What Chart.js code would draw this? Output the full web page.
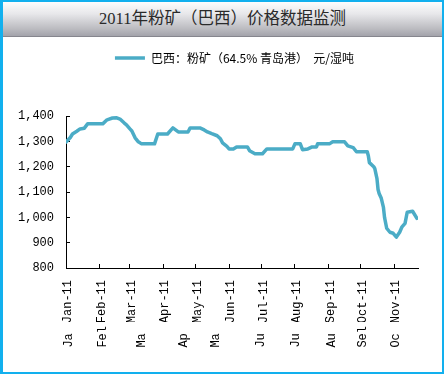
<!DOCTYPE html>
<html>
<head>
<meta charset="utf-8">
<script src="https://cdn.jsdelivr.net/npm/chart.js@4.4.1/dist/chart.umd.min.js"></script>
<style>
    html, body { margin: 0; padding: 0; background: #fff; }
    body { position: relative; width: 444px; height: 374px; overflow: hidden; }
    #frame {
        position: absolute; left: 0; top: 0; width: 444px; height: 374px;
        box-sizing: border-box; border: 2px solid #12b0ee; border-left-width: 3px;
    }
    #banner {
        height: 34px; line-height: 34px; text-align: center;
        background: linear-gradient(#fdfdfd, #e7e7ea 35%, #bababf 80%, #a3a3ab);
        border-bottom: 1px solid #86868e;
        font-family: "Liberation Serif", "Noto Sans CJK SC", serif; font-size: 16.5px; color: #2a2a2a;
    }
    canvas { position: absolute; left: 0; top: 0; }
</style>
</head>
<body>
<div id="frame"><div id="banner">2011年粉矿（巴西）价格数据监测</div></div>
<canvas id="priceChart" width="444" height="374"></canvas>
<script>
// 巴西粉矿（64.5% 青岛港）价格 元/湿吨
const dates = [
    '1/1', '1/5', '1/7', '1/11', '1/14', '1/18', '1/21', '2/4', '2/8', '2/13',
    '2/17', '2/20', '2/24', '2/26', '3/1', '3/3', '3/6', '3/9', '3/12', '3/24',
    '3/27', '4/5', '4/10', '4/15', '4/24', '4/26', '5/5', '5/9', '5/12', '5/16',
    '5/21', '5/24', '5/26', '5/30', '6/1', '6/5', '6/8', '6/18', '6/20', '6/25',
    '7/2', '7/6', '7/30', '8/1', '8/6', '8/8', '8/13', '8/17', '8/21', '8/22',
    '9/2', '9/5', '9/16', '9/19', '9/24', '9/27', '10/7', '10/8', '10/9', '10/13',
    '10/14', '10/16', '10/17', '10/18', '10/20', '10/22', '10/23', '10/25', '10/28', '10/31',
    '11/3', '11/6', '11/8', '11/11', '11/13', '11/18', '11/22'
];
const prices = [
    1297, 1315, 1329, 1340, 1349, 1352, 1369, 1369, 1385, 1392,
    1393, 1388, 1372, 1365, 1350, 1341, 1314, 1298, 1290, 1290,
    1329, 1329, 1353, 1337, 1337, 1353, 1353, 1345, 1337, 1330,
    1322, 1310, 1294, 1280, 1270, 1270, 1278, 1278, 1263, 1251,
    1251, 1270, 1270, 1290, 1290, 1267, 1270, 1278, 1278, 1290,
    1290, 1298, 1298, 1282, 1275, 1259, 1259, 1243, 1216, 1200,
    1192, 1153, 1110, 1094, 1075, 1039, 1000, 957, 941, 937,
    922, 941, 961, 976, 1020, 1024, 996
];

// 横軸の目盛り
const monthStarts = ['1/1', '2/1', '3/1', '4/1', '5/1', '6/1', '7/1', '8/1', '9/1', '10/1', '11/1'];
const monthLabels = ['Jan-11', 'Feb-11', 'Mar-11', 'Apr-11', 'May-11', 'Jun-11',
    'Jul-11', 'Aug-11', 'Sep-11', 'Oct-11', 'Nov-11'];
const axisEnd = '11/23';

// 下段の切れたラベル
const lowerDates = ['1/2', '2/2', '3/10', '4/18', '5/18', '6/29', '7/31', '9/2', '10/1', '11/1'];
const lowerLabels = ['Ja', 'Fel', 'Ma', 'Ap', 'Ma', 'Ju', 'Ju', 'Au', 'Sel', 'Oc'];

// 縦軸の目盛り
const yTicks = [800, 900, 1000, 1100, 1200, 1300, 1400];

const TICK_FONT = { family: '"Liberation Mono", monospace', size: 12 };
const LINE_COLOR = '#4bacc6';

function dayOf(md) {
    const [m, d] = md.split('/').map(Number);
    return (Date.UTC(2011, m - 1, d) - Date.UTC(2011, 0, 1)) / 86400000;
}

// 凡例の高さと横位置の調整
const legendLayout = {
    id: 'legendLayout',
    beforeInit(chart) {
        const legend = chart.legend;
        if (!legend) return;
        const fit = legend.fit;
        legend.fit = function() {
            fit.call(this);
            this.height = 78;
        };
    },
    afterLayout(chart) {
        chart.legend.left += 24;
        chart.legend.right += 24;
    }
};

document.addEventListener('DOMContentLoaded', function() {
    const ctx = document.getElementById('priceChart').getContext('2d');

    new Chart(ctx, {
        type: 'line',
        data: {
            datasets: [{
                label: '巴西：粉矿（64.5% 青岛港）  元/湿吨',
                data: dates.map((d, i) => ({ x: dayOf(d), y: prices[i] })),
                borderColor: LINE_COLOR,
                backgroundColor: LINE_COLOR,
                borderWidth: 3.5,
                pointRadius: 0,
                tension: 0,
                borderJoinStyle: 'round',
                borderCapStyle: 'round'
            }]
        },
        options: {
            responsive: false,
            animation: false,
            layout: { padding: { top: 38, left: 3, right: 26, bottom: 24 } },
            plugins: {
                legend: {
                    labels: {
                        usePointStyle: true,
                        pointStyle: 'line',
                        pointStyleWidth: 30,
                        padding: 14,
                        color: '#000',
                        font: { family: '"Noto Sans CJK SC"', size: 12 }
                    }
                },
                tooltip: { enabled: false }
            },
            scales: {
                x: {
                    type: 'linear',
                    weight: 0,
                    min: 0,
                    max: dayOf(axisEnd),
                    afterBuildTicks: s => { s.ticks = monthStarts.map(d => ({ value: dayOf(d) })); },
                    afterFit: s => { s.height = 54; },
                    grid: { drawOnChartArea: false, tickLength: -4, color: '#000' },
                    border: { color: '#000' },
                    ticks: {
                        autoSkip: false,
                        maxRotation: 90,
                        minRotation: 90,
                        padding: 16,
                        labelOffset: 2,
                        color: '#000',
                        font: TICK_FONT,
                        callback: (v, i) => monthLabels[i]
                    }
                },
                x2: {
                    type: 'linear',
                    position: 'bottom',
                    weight: 1,
                    min: 0,
                    max: dayOf(axisEnd),
                    afterBuildTicks: s => { s.ticks = lowerDates.map(d => ({ value: dayOf(d) })); },
                    afterFit: s => { s.height = 28; },
                    grid: { display: false, drawTicks: false },
                    border: { display: false },
                    ticks: {
                        autoSkip: false,
                        maxRotation: 90,
                        minRotation: 90,
                        padding: 4,
                        labelOffset: 2,
                        color: '#000',
                        font: TICK_FONT,
                        callback: (v, i) => lowerLabels[i].padEnd(3, ' ')
                    }
                },
                y: {
                    min: 800,
                    max: 1400,
                    afterBuildTicks: s => { s.ticks = yTicks.map(v => ({ value: v })); },
                    afterFit: s => { s.width = 63; },
                    grid: { drawOnChartArea: false, tickLength: -4, color: '#000' },
                    border: { color: '#000' },
                    ticks: {
                        padding: 16,
                        color: '#000',
                        font: TICK_FONT,
                        callback: v => v.toLocaleString('en-US')
                    }
                }
            }
        },
        plugins: [legendLayout]
    });
});
</script>
</body>
</html>
